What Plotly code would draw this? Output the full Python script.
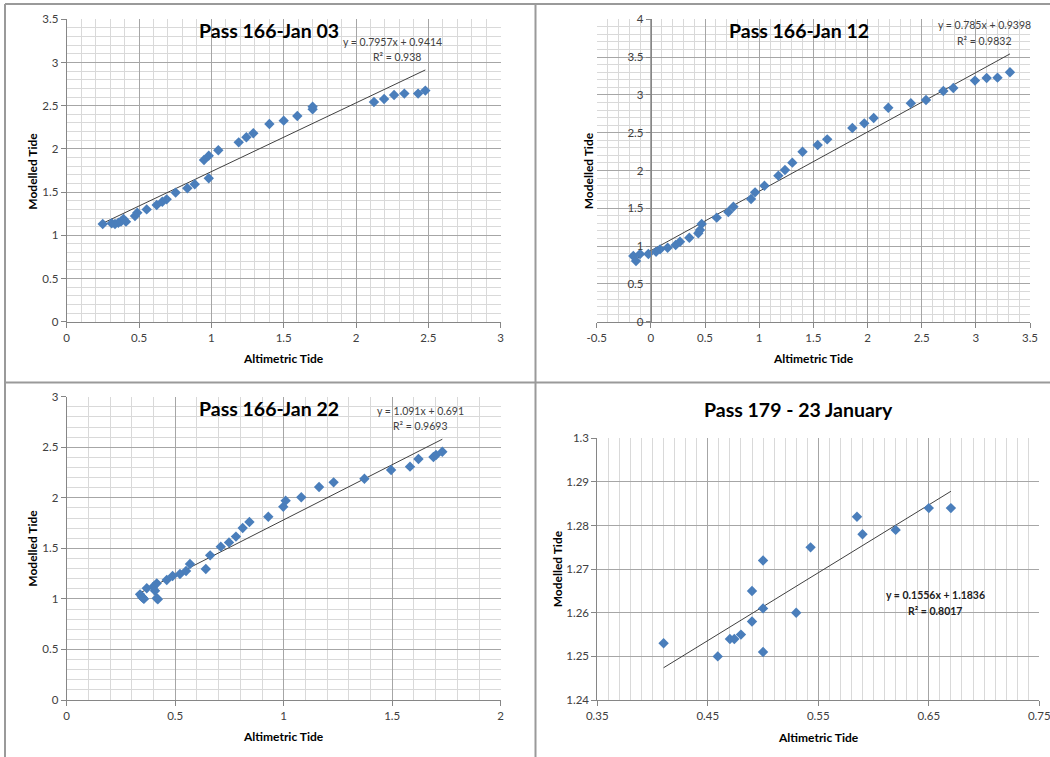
import plotly.graph_objects as go

W, H = 1050, 757

# ---------------- data ----------------
# Panel 1: Pass 166-Jan 03
p1_title = "Pass 166-Jan 03"
p1_x = [0.249, 0.311, 0.334, 0.357, 0.375, 0.392, 0.41, 0.472, 0.488, 0.553, 0.622, 0.661,
        0.691, 0.753, 0.834, 0.885, 0.949, 0.982, 0.982, 1.048, 1.189, 1.242, 1.290,
        1.401, 1.500, 1.594, 1.700, 1.700, 2.124, 2.194, 2.263, 2.334, 2.429, 2.479]
p1_y = [1.131, 1.139, 1.131, 1.146, 1.16, 1.19, 1.158, 1.223, 1.262, 1.300, 1.351, 1.389,
        1.416, 1.494, 1.544, 1.590, 1.872, 1.660, 1.922, 1.984, 2.076, 2.134, 2.181,
        2.289, 2.327, 2.381, 2.458, 2.489, 2.543, 2.578, 2.624, 2.640, 2.640, 2.675]
p1_fit = [0.7957, 0.9414]
p1_eq = ["y = 0.7957x + 0.9414", "R² = 0.938"]
p1_xticks = [0, 0.5, 1, 1.5, 2, 2.5, 3]
p1_yticks = [0, 0.5, 1, 1.5, 2, 2.5, 3, 3.5]

# Panel 2: Pass 166-Jan 12
p2_title = "Pass 166-Jan 12"
p2_x = [-0.162, -0.137, -0.100, -0.023, 0.048, 0.085, 0.155, 0.229, 0.269, 0.355, 0.438,
        0.454, 0.469, 0.608, 0.715, 0.762, 0.925, 0.962, 1.048, 1.177, 1.238, 1.306,
        1.400, 1.540, 1.628, 1.860, 1.970, 2.057, 2.192, 2.400, 2.540, 2.700, 2.792,
        2.992, 3.100, 3.200, 3.315]
p2_y = [0.869, 0.803, 0.895, 0.895, 0.926, 0.957, 0.979, 1.014, 1.058, 1.111, 1.169,
        1.213, 1.292, 1.376, 1.451, 1.521, 1.623, 1.711, 1.799, 1.932, 2.007, 2.104,
        2.249, 2.337, 2.412, 2.562, 2.624, 2.695, 2.831, 2.889, 2.933, 3.052, 3.092,
        3.189, 3.224, 3.228, 3.299]
p2_fit = [0.785, 0.9398]
p2_eq = ["y = 0.785x + 0.9398", "R² = 0.9832"]
p2_xticks = [-0.5, 0, 0.5, 1, 1.5, 2, 2.5, 3, 3.5]
p2_xticklabels = ["-0.5", "0", "0.5", "1", "1.5", "2", "2.5", "3", "3.5"]
p2_yticks = [0, 0.5, 1, 1.5, 2, 2.5, 3, 3.5, 4]

# Panel 3: Pass 166-Jan 22
p3_title = "Pass 166-Jan 22"
p3_x = [0.338, 0.346, 0.353, 0.356, 0.369, 0.399, 0.407, 0.415, 0.415, 0.420, 0.461,
        0.488, 0.522, 0.550, 0.568, 0.641, 0.661, 0.710, 0.748, 0.780, 0.811, 0.842,
        0.929, 0.998, 1.009, 1.081, 1.163, 1.230, 1.372, 1.495, 1.582, 1.621, 1.690,
        1.702, 1.731]
p3_y = [1.045, 1.022, 1.006, 1.000, 1.105, 1.121, 1.081, 1.154, 1.006, 0.996, 1.187,
        1.226, 1.246, 1.276, 1.345, 1.296, 1.431, 1.517, 1.559, 1.616, 1.701, 1.761,
        1.813, 1.912, 1.972, 2.005, 2.107, 2.153, 2.189, 2.275, 2.308, 2.384, 2.404,
        2.423, 2.456]
p3_fit = [1.091, 0.691]
p3_eq = ["y = 1.091x + 0.691", "R² = 0.9693"]
p3_xticks = [0, 0.5, 1, 1.5, 2]
p3_yticks = [0, 0.5, 1, 1.5, 2, 2.5, 3]

# Panel 4: Pass 179 - 23 January
p4_title = "Pass 179 - 23 January"
p4_x = [0.410, 0.459, 0.470, 0.474, 0.480, 0.490, 0.490, 0.500, 0.500, 0.500, 0.530,
        0.543, 0.585, 0.590, 0.620, 0.650, 0.670]
p4_y = [1.253, 1.250, 1.254, 1.254, 1.255, 1.265, 1.258, 1.272, 1.261, 1.251, 1.260,
        1.275, 1.282, 1.278, 1.279, 1.284, 1.284]
p4_fit = [0.1556, 1.1836]
p4_eq = ["y = 0.1556x + 1.1836", "R² = 0.8017"]
p4_xticks = [0.35, 0.45, 0.55, 0.65, 0.75]
p4_xticklabels = ["0.35", "0.45", "0.55", "0.65", "0.75"]
p4_yticks = [1.24, 1.25, 1.26, 1.27, 1.28, 1.29, 1.30]
p4_yticklabels = ["1.24", "1.25", "1.26", "1.27", "1.28", "1.29", "1.3"]

x_title = "Altimetric Tide"
y_title = "Modelled Tide"

# ---------------- styling ----------------
FONT = "Lato, 'Open Sans', sans-serif"
MARK = "#4A7EBB"
TXT = "#404040"
MAJ = "#A6A6A6"
MIN = "#D9D9D9"


def px(v):
    return v / W


def py(v):
    return 1 - v / H


fig = go.Figure()

panels = [
    (p1_x, p1_y, p1_fit, "x", "y"),
    (p2_x, p2_y, p2_fit, "x2", "y2"),
    (p3_x, p3_y, p3_fit, "x3", "y3"),
    (p4_x, p4_y, p4_fit, "x4", "y4"),
]
for xs, ys, fit, xa, ya in panels:
    lo, hi = min(xs), max(xs)
    fig.add_trace(go.Scatter(x=[lo, hi], y=[fit[0] * lo + fit[1], fit[0] * hi + fit[1]],
                             mode="lines", line=dict(color="#404040", width=1),
                             xaxis=xa, yaxis=ya, showlegend=False, hoverinfo="skip"))
    fig.add_trace(go.Scatter(x=xs, y=ys, mode="markers",
                             marker=dict(symbol="diamond", size=8, color=MARK,
                                         line=dict(width=0)),
                             xaxis=xa, yaxis=ya, showlegend=False))


def axis(domain, rng, tickvals, ticktext=None, minor=None, **kw):
    d = dict(domain=domain, range=rng, tickmode="array", tickvals=tickvals,
             showgrid=True, gridcolor=MAJ, gridwidth=1, zeroline=False,
             showline=True, linecolor="#868686", linewidth=1,
             ticks="outside", ticklen=5, tickcolor="#868686",
             automargin=False, ticklabeloverflow="allow",
             tickfont=dict(family=FONT, size=11.5, color=TXT), fixedrange=True)
    if ticktext is not None:
        d["ticktext"] = ticktext
    if minor is not None:
        d["minor"] = dict(dtick=minor, tick0=rng[0], showgrid=True, gridcolor=MIN,
                          gridwidth=1, ticks="")
    d.update(kw)
    return d


xd_left = [px(66.7), px(500.7)]
yd_top = [py(321.7), py(19.3)]
yd_bot3 = [py(700), py(396.7)]

fig.update_layout(
    width=W, height=H, autosize=False,
    margin=dict(l=0, r=0, t=0, b=0, pad=0),
    paper_bgcolor="white", plot_bgcolor="white",
    showlegend=False,
    xaxis=axis(xd_left, [0, 3], p1_xticks, minor=0.1, anchor="y"),
    yaxis=axis(yd_top, [0, 3.5], p1_yticks, minor=0.1, anchor="x"),
    xaxis2=axis([px(596.7), px(1030)], [-0.5, 3.5], p2_xticks, p2_xticklabels,
                minor=0.1, anchor="y2"),
    yaxis2=axis(yd_top, [0, 4], p2_yticks, minor=0.1, anchor="free",
                position=px(650.8)),
    xaxis3=axis(xd_left, [0, 2], p3_xticks, minor=0.1, anchor="y3"),
    yaxis3=axis(yd_bot3, [0, 3], p3_yticks, minor=0.1, anchor="x3"),
    xaxis4=axis([px(597.3), px(1039.3)], [0.35, 0.75], p4_xticks, p4_xticklabels,
                minor=0.01, anchor="y4"),
    yaxis4=axis([py(700), py(438.3)], [1.24, 1.30], p4_yticks, p4_yticklabels,
                anchor="x4"),
)

ann = []


def text(x, y, s, size, bold=False, angle=0, color=None):
    ann.append(dict(x=px(x), y=py(y), xref="paper", yref="paper", text=s,
                    showarrow=False, xanchor="center", yanchor="middle",
                    textangle=angle,
                    font=dict(family=FONT, size=size,
                              color=color or ("#000000" if bold else TXT),
                              weight="bold" if bold else "normal")))


# titles
text(268.8, 30, p1_title, 19.5, bold=True)
text(798.7, 30, p2_title, 19.5, bold=True)
text(269, 408, p3_title, 19.5, bold=True)
text(798.7, 409, p4_title, 19.5, bold=True)

# trend equations
text(392, 42, p1_eq[0], 10.5)
text(397, 57, p1_eq[1], 10.5)
text(984.7, 25, p2_eq[0], 10.5)
text(984.3, 41, p2_eq[1], 10.5)
text(420, 410.7, p3_eq[0], 10.5)
text(420, 426, p3_eq[1], 10.5)
text(935.5, 595, p4_eq[0], 10.5, bold=True, color="#202020")
text(935, 610.7, p4_eq[1], 10.5, bold=True, color="#202020")

# axis titles
for (xx, yy) in [(283.7, 358), (813, 358), (283.7, 736.7), (818.3, 737.3)]:
    text(xx, yy, x_title, 12, bold=True)
for (xx, yy) in [(31.7, 171), (588.3, 171), (31.7, 548), (557.3, 569)]:
    text(xx, yy, y_title, 12, bold=True, angle=-90)

fig.update_layout(annotations=ann)

# panel frames
shapes = []
GR = "#9A9A9A"
for (x0, y0, x1, y1) in [(5, 4, 1050, 4), (5, 4, 5, 757), (535.5, 4, 535.5, 757),
                         (5, 382.5, 1050, 382.5)]:
    shapes.append(dict(type="line", xref="paper", yref="paper",
                       x0=px(x0), y0=py(y0), x1=px(x1), y1=py(y1),
                       line=dict(color=GR, width=2)))
fig.update_layout(shapes=shapes)

fig.write_html("out.html", config={"displayModeBar": False, "staticPlot": True},
               post_script="document.body.style.margin='0';document.body.style.overflow='hidden';")
